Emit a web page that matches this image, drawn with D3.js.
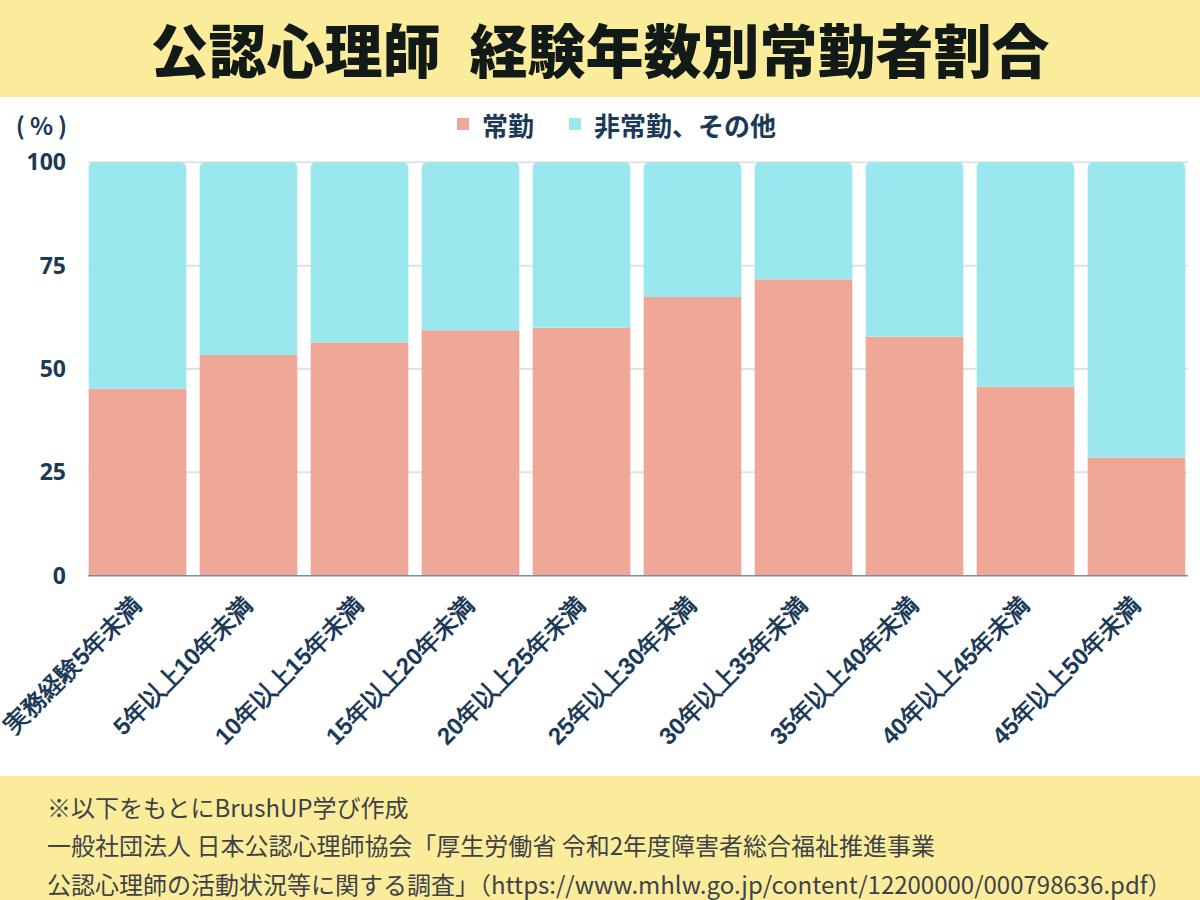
<!DOCTYPE html>
<html lang="ja">
<head>
<meta charset="UTF-8">
<title>公認心理師 経験年数別常勤者割合</title>
<script src="https://d3js.org/d3.v7.min.js"></script>
<style>
  body { margin: 0; background: #fff; }
  svg { display: block; font-family: "Noto Sans CJK JP", "Noto Sans", sans-serif; }
</style>
</head>
<body>
<div id="chart"></div>
<script>
const categories = ["実務経験5年未満", "5年以上10年未満", "10年以上15年未満", "15年以上20年未満",
  "20年以上25年未満", "25年以上30年未満", "30年以上35年未満", "35年以上40年未満",
  "40年以上45年未満", "45年以上50年未満"];
const fullTime = [45.2, 53.4, 56.4, 59.4, 60.0, 67.4, 71.7, 57.8, 45.7, 28.6];
const otherTime = [54.8, 46.6, 43.6, 40.6, 40.0, 32.6, 28.3, 42.2, 54.3, 71.4];
const seriesNames = ["常勤", "非常勤、その他"];
const yTicks = [0, 25, 50, 75, 100];

const colors = ["#efa897", "#9ae8ee"];
const navy = "#1b3a57";
const W = 1200, H = 900;

const svg = d3.select("#chart").append("svg")
  .attr("width", W)
  .attr("height", H);

// header / footer bands
svg.append("rect").attr("x", 0).attr("y", 0).attr("width", W).attr("height", 97).attr("fill", "#fbec9c");
svg.append("rect").attr("x", 0).attr("y", 776).attr("width", W).attr("height", 124).attr("fill", "#fbec9c");

svg.append("text")
  .attr("x", 600).attr("y", 48)
  .attr("text-anchor", "middle")
  .attr("dominant-baseline", "central")
  .attr("fill", "#111a16")
  .style("font-size", "58px")
  .style("font-weight", 900)
  .text("公認心理師\u2002経験年数別常勤者割合");

const data = categories.map((c, i) => ({ cat: c, "常勤": fullTime[i], "非常勤、その他": otherTime[i] }));
const stacked = d3.stack().keys(seriesNames)(data);

const x = d3.scaleBand()
  .domain(categories)
  .range([82, 1192])
  .paddingInner(0.12)
  .paddingOuter(0.06);

const y = d3.scaleLinear()
  .domain([0, 100])
  .range([575.7, 162.3]);

// gridlines
svg.append("g")
  .selectAll("line")
  .data(yTicks.filter(d => d > 0))
  .join("line")
  .attr("x1", 88).attr("x2", 1188)
  .attr("y1", d => y(d)).attr("y2", d => y(d))
  .attr("stroke", "#dfe2e7")
  .attr("stroke-width", 2);

// bars
const r = 6;
stacked.forEach((layer, li) => {
  svg.append("g")
    .selectAll("path")
    .data(layer)
    .join("path")
    .attr("fill", colors[li])
    .attr("d", d => {
      const x0 = x(d.data.cat), w = x.bandwidth();
      const top = y(d[1]), bot = y(d[0]);
      if (li === stacked.length - 1) {
        return `M${x0},${bot}V${top + r}Q${x0},${top} ${x0 + r},${top}H${x0 + w - r}Q${x0 + w},${top} ${x0 + w},${top + r}V${bot}Z`;
      }
      return `M${x0},${bot}V${top}H${x0 + w}V${bot}Z`;
    });
});

// zero axis line
svg.append("line")
  .attr("x1", 88).attr("x2", 1188)
  .attr("y1", y(0)).attr("y2", y(0))
  .attr("stroke", "#7d8ea0")
  .attr("stroke-width", 1.5);

// y axis labels
const yAxis = svg.append("g")
  .attr("transform", "translate(66,0)")
  .call(d3.axisLeft(y).tickValues(yTicks).tickSize(0).tickPadding(0));
yAxis.select(".domain").remove();
yAxis.selectAll("text")
  .attr("fill", navy)
  .style("font-size", "23px")
  .style("font-weight", 700)
  .style("font-family", "'Open Sans', 'Noto Sans', sans-serif");

svg.append("text")
  .attr("x", 44).attr("y", 124)
  .attr("text-anchor", "middle")
  .attr("dominant-baseline", "central")
  .attr("fill", navy)
  .style("font-size", "24px")
  .style("font-weight", 700)
  .style("letter-spacing", "5px")
  .text("(%)");

// x axis labels
const xAxis = svg.append("g")
  .attr("transform", `translate(0,${y(0)})`)
  .call(d3.axisBottom(x).tickSize(0).tickPadding(0));
xAxis.select(".domain").remove();
xAxis.selectAll("text")
  .attr("fill", navy)
  .attr("text-anchor", "end")
  .attr("dy", 0)
  .attr("transform", "translate(5,31) rotate(-45)")
  .style("font-size", "24px")
  .style("font-weight", 700);

// legend
const legendX = [457, 569];
const legend = svg.append("g")
  .selectAll("g")
  .data(seriesNames)
  .join("g")
  .attr("transform", (d, i) => `translate(${legendX[i]},124)`);
legend.append("rect")
  .attr("x", 0).attr("y", -6).attr("width", 12).attr("height", 12)
  .attr("fill", (d, i) => colors[i]);
legend.append("text")
  .attr("x", 25).attr("y", 0)
  .attr("dominant-baseline", "central")
  .attr("fill", navy)
  .style("font-size", "26px")
  .style("font-weight", 700)
  .text(d => d);

// footer
const footer = [
  "※以下をもとにBrushUP学び作成",
  "一般社団法人 日本公認心理師協会「厚生労働省 令和2年度障害者総合福祉推進事業",
  "公認心理師の活動状況等に関する調査」（https://www.mhlw.go.jp/content/12200000/000798636.pdf）"
];
svg.append("g")
  .selectAll("text")
  .data(footer)
  .join("text")
  .attr("x", 47)
  .attr("y", (d, i) => 806 + i * 38.5)
  .attr("dominant-baseline", "central")
  .attr("fill", "#3d4349")
  .style("font-size", "24px")
  .text(d => d);
</script>
</body>
</html>
